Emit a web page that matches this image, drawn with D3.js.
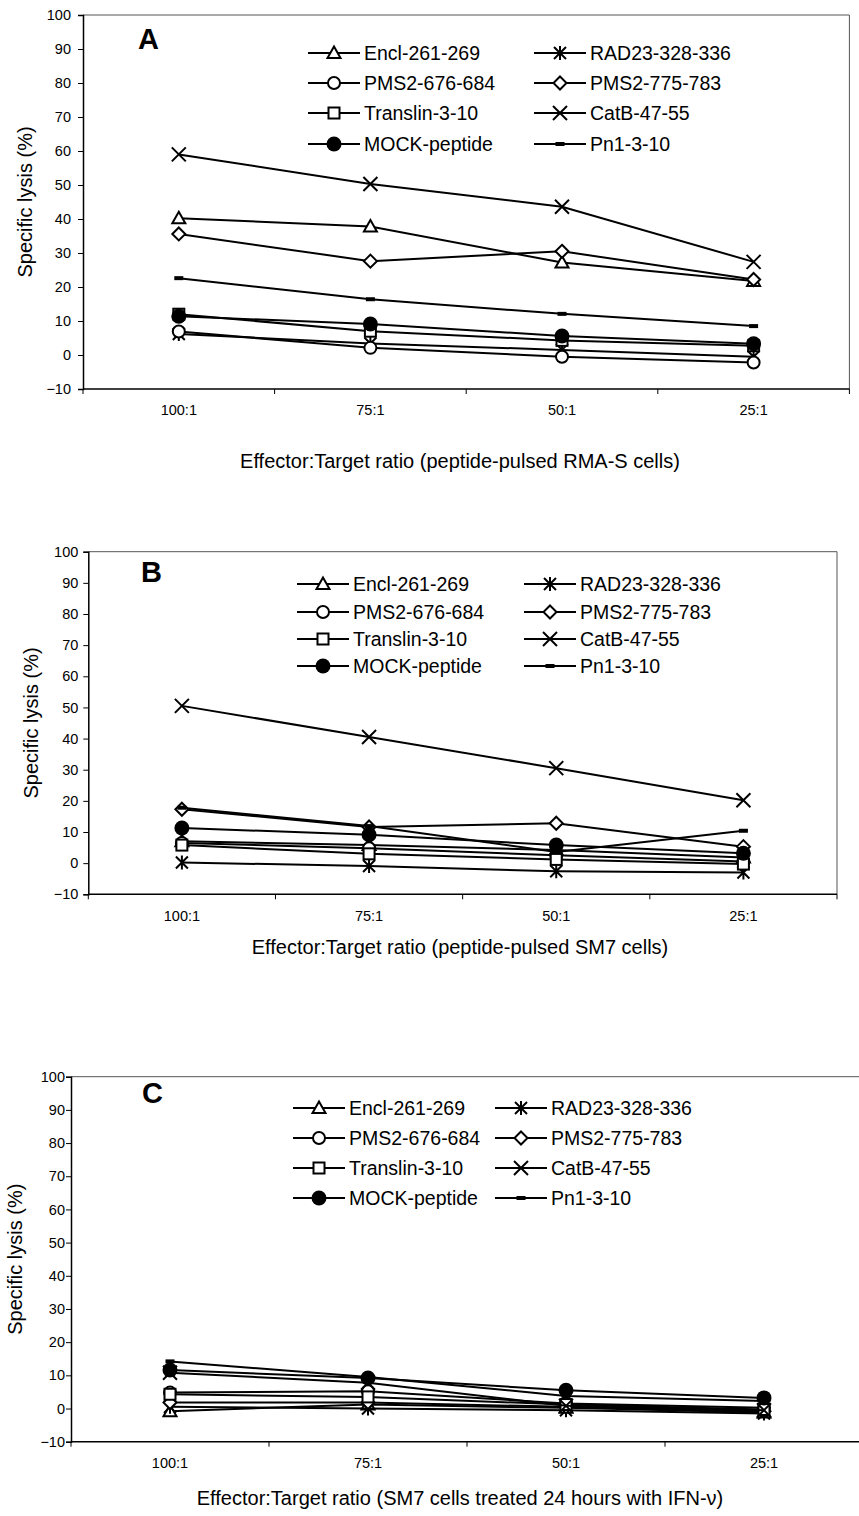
<!DOCTYPE html>
<html lang="en">
<head>
    <meta charset="UTF-8">
    <title>Specific lysis</title>
    <script src="https://d3js.org/d3.v7.min.js"></script>
    <style>
        body { margin: 0; background: #fff; }
        svg { display: block; font-family: Arial, "Liberation Sans", sans-serif; }
        .tick text { font-size: 14.5px; fill: #000; }
        .axis-title { font-size: 20px; }
        .legend text { font-size: 19.5px; }
        .panel-label { font-size: 29px; font-weight: bold; }
    </style>
</head>
<body>
    <svg id="chart" width="859" height="1516"></svg>

    <script>
        // categories and ticks
        const ratios = ["100:1", "75:1", "50:1", "25:1"];
        const yTicks = [-10, 0, 10, 20, 30, 40, 50, 60, 70, 80, 90, 100];

        // series (legend order, row by row)
        const seriesNames = ["Encl-261-269", "RAD23-328-336", "PMS2-676-684", "PMS2-775-783",
                             "Translin-3-10", "CatB-47-55", "MOCK-peptide", "Pn1-3-10"];
        const seriesMarkers = ["triangle", "asterisk", "circle", "diamond",
                               "square", "cross", "dot", "dash"];

        // values per panel, same order as seriesNames
        const valuesA = [
            [40.2, 37.8, 27.2, 21.8],
            [6.2, 3.4, 1.5, -0.5],
            [6.9, 2.1, -0.5, -2.2],
            [35.6, 27.6, 30.5, 22.2],
            [12.0, 7.0, 4.3, 2.7],
            [59.0, 50.3, 43.6, 27.4],
            [11.4, 9.1, 5.6, 3.3],
            [22.6, 16.4, 12.1, 8.5]
        ];
        const valuesB = [
            [7.0, 5.8, 4.2, 1.8],
            [0.2, -0.9, -2.6, -3.0],
            [6.5, 4.8, 2.5, 0.5],
            [17.3, 11.6, 12.8, 5.3],
            [5.8, 3.0, 1.2, -0.3],
            [50.5, 40.5, 30.5, 20.2],
            [11.3, 9.1, 5.8, 3.2],
            [17.8, 11.9, 3.6, 10.4]
        ];
        const valuesC = [
            [-0.8, 1.2, 0.2, -1.2],
            [0.5, 0.0, -0.5, -1.5],
            [4.8, 5.2, 1.5, 0.2],
            [1.8, 1.8, 0.5, -0.8],
            [4.3, 3.5, 1.2, -0.3],
            [10.8, 7.8, 0.8, -0.5],
            [11.6, 9.2, 5.5, 3.2],
            [14.2, 9.5, 3.8, 2.3]
        ];

        const panels = [
            { label: "A", values: valuesA,
              left: 83, right: 849.4, top: 15, bottom: 389, labelGap: 12,
              labelPos: [138, 49], yTitleX: 25, xTitleY: 461,
              xTitle: "Effector:Target ratio (peptide-pulsed RMA-S cells)",
              legend: { cols: [334, 560], rows: [53, 83, 113, 144] } },
            { label: "B", values: valuesB,
              left: 88.3, right: 837, top: 551.7, bottom: 894.3, labelGap: 10,
              labelPos: [141, 582], yTitleX: 31, xTitleY: 947,
              xTitle: "Effector:Target ratio (peptide-pulsed SM7 cells)",
              legend: { cols: [323, 550], rows: [584, 612, 639, 666] } },
            { label: "C", values: valuesC,
              left: 71, right: 863, top: 1076.7, bottom: 1441.7, labelGap: 6,
              labelPos: [142, 1103], yTitleX: 15, xTitleY: 1498,
              xTitle: "Effector:Target ratio (SM7 cells treated 24 hours with IFN-\u03bd)",
              legend: { cols: [319, 521], rows: [1108, 1138, 1168, 1198] } }
        ];

        const svg = d3.select("#chart");

        // draw one marker shape centred at 0,0
        function drawMarker(g, type) {
            if (type === "triangle") {
                g.append("path").attr("d", "M0,-6.5L6.5,5L-6.5,5Z")
                    .attr("fill", "#fff").attr("stroke", "#000").attr("stroke-width", 2);
            } else if (type === "circle") {
                g.append("circle").attr("r", 6)
                    .attr("fill", "#fff").attr("stroke", "#000").attr("stroke-width", 2);
            } else if (type === "square") {
                g.append("rect").attr("x", -5.5).attr("y", -5.5).attr("width", 11).attr("height", 11)
                    .attr("fill", "#fff").attr("stroke", "#000").attr("stroke-width", 2);
            } else if (type === "dot") {
                g.append("circle").attr("r", 7.5).attr("fill", "#000");
            } else if (type === "diamond") {
                g.append("path").attr("d", "M0,-6.5L6.5,0L0,6.5L-6.5,0Z")
                    .attr("fill", "#fff").attr("stroke", "#000").attr("stroke-width", 2);
            } else if (type === "cross") {
                g.append("path").attr("d", "M-7,-7L7,7M-7,7L7,-7")
                    .attr("stroke", "#000").attr("stroke-width", 2);
            } else if (type === "asterisk") {
                g.append("path").attr("d", "M-6,-6L6,6M-6,6L6,-6M0,-7L0,7")
                    .attr("stroke", "#000").attr("stroke-width", 2);
            } else if (type === "dash") {
                g.append("rect").attr("x", -4.5).attr("y", -2).attr("width", 9).attr("height", 4)
                    .attr("fill", "#000");
            }
        }

        panels.forEach(p => {
            const x = d3.scaleBand().domain(ratios).range([p.left, p.right]);
            const y = d3.scaleLinear().domain([-10, 100]).range([p.bottom, p.top]);
            const cx = d => x(d) + x.bandwidth() / 2;

            const g = svg.append("g");

            // plot area border (top + right), grey like Excel
            g.append("path")
                .attr("d", `M${p.left},${p.top}H${p.right}V${p.bottom}`)
                .attr("fill", "none").attr("stroke", "#555").attr("stroke-width", 1);

            // y axis
            const yAxis = g.append("g")
                .attr("transform", `translate(${p.left},0)`)
                .call(d3.axisLeft(y).tickValues(yTicks).tickSize(5).tickPadding(p.labelGap - 5));
            yAxis.select(".domain").attr("stroke-width", 1.5);
            yAxis.selectAll(".tick line").attr("stroke-width", 1);
            yAxis.selectAll("text").style("font-family", "Arial, 'Liberation Sans', sans-serif");

            // x axis: labels centred, ticks on category boundaries
            const xAxis = g.append("g")
                .attr("transform", `translate(0,${p.bottom})`)
                .call(d3.axisBottom(x).tickSize(0).tickPadding(16));
            xAxis.select(".domain").remove();
            xAxis.selectAll("text").style("font-family", "Arial, 'Liberation Sans', sans-serif");

            g.append("line")
                .attr("x1", p.left).attr("x2", p.right)
                .attr("y1", p.bottom).attr("y2", p.bottom)
                .attr("stroke", "#000").attr("stroke-width", 1.5);
            g.selectAll(".xtick")
                .data(ratios.map(d => x(d)).concat([p.right]))
                .enter().append("line")
                .attr("x1", d => d).attr("x2", d => d)
                .attr("y1", p.bottom).attr("y2", p.bottom + 5)
                .attr("stroke", "#000").attr("stroke-width", 1);

            // axis titles
            g.append("text")
                .attr("class", "axis-title")
                .attr("transform", `translate(${p.yTitleX},${(p.top + p.bottom) / 2}) rotate(-90)`)
                .attr("dy", "0.35em")
                .attr("text-anchor", "middle")
                .text("Specific lysis (%)");

            g.append("text")
                .attr("class", "axis-title")
                .attr("x", 460).attr("y", p.xTitleY)
                .attr("dy", "0.35em")
                .attr("text-anchor", "middle")
                .text(p.xTitle);

            g.append("text")
                .attr("class", "panel-label")
                .attr("x", p.labelPos[0]).attr("y", p.labelPos[1])
                .text(p.label);

            // series lines and markers
            const line = d3.line().x((v, i) => cx(ratios[i])).y(v => y(v));

            p.values.forEach((vals, si) => {
                g.append("path")
                    .datum(vals)
                    .attr("d", line)
                    .attr("fill", "none")
                    .attr("stroke", "#000")
                    .attr("stroke-width", 2);

                vals.forEach((v, i) => {
                    const m = g.append("g")
                        .attr("transform", `translate(${cx(ratios[i])},${y(v)})`);
                    drawMarker(m, seriesMarkers[si]);
                });
            });

            // legend, two columns filled row by row
            const lg = g.append("g").attr("class", "legend");
            seriesNames.forEach((name, i) => {
                const mx = p.legend.cols[i % 2];
                const my = p.legend.rows[Math.floor(i / 2)];
                lg.append("line")
                    .attr("x1", mx - 26).attr("x2", mx + 26)
                    .attr("y1", my).attr("y2", my)
                    .attr("stroke", "#000").attr("stroke-width", 2);
                const m = lg.append("g").attr("transform", `translate(${mx},${my})`);
                drawMarker(m, seriesMarkers[i]);
                lg.append("text")
                    .attr("x", mx + 30).attr("y", my)
                    .attr("dy", "0.35em")
                    .text(name);
            });
        });
    </script>
</body>
</html>
